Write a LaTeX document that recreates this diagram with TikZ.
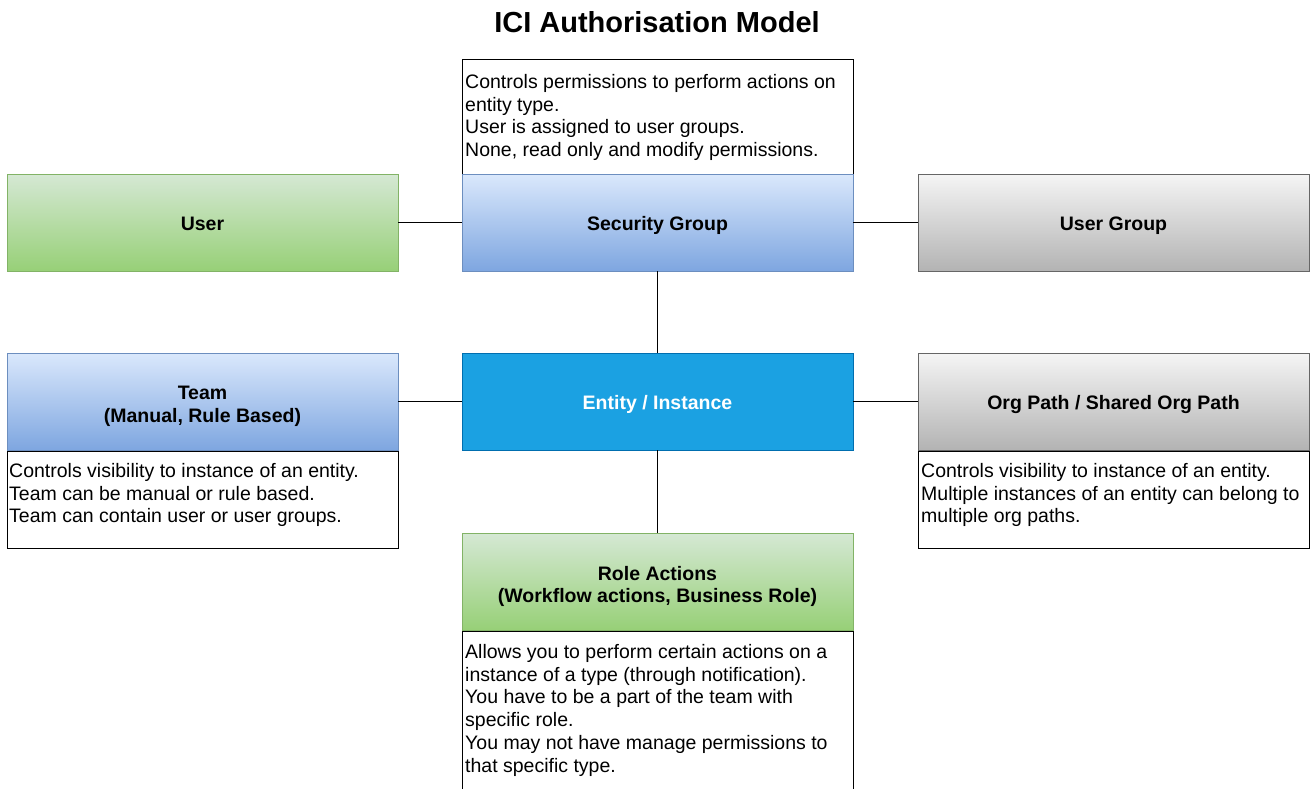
\documentclass[tikz,border=0pt]{standalone}
\usepackage{fontspec}
\setmainfont{Liberation Sans}
\definecolor{gA}{HTML}{D5E8D4}\definecolor{gB}{HTML}{97D077}\definecolor{gS}{HTML}{82B366}
\definecolor{bA}{HTML}{DAE8FC}\definecolor{bB}{HTML}{7EA6E0}\definecolor{bS}{HTML}{6C8EBF}
\definecolor{yA}{HTML}{F5F5F5}\definecolor{yB}{HTML}{B3B3B3}\definecolor{yS}{HTML}{666666}
\definecolor{eF}{HTML}{1BA1E2}\definecolor{eS}{HTML}{006EAF}
\begin{document}
\begin{tikzpicture}[x=1pt,y=-1pt,
  box/.style={line width=1pt, minimum width=391pt, minimum height=97pt, inner sep=0pt, outer sep=0pt, anchor=north west},
  greenbox/.style={box, draw=gS, top color=gA, bottom color=gB},
  bluebox/.style={box, draw=bS, top color=bA, bottom color=bB},
  graybox/.style={box, draw=yS, top color=yA, bottom color=yB},
  entbox/.style={box, draw=eS, fill=eF},
  descbox/.style={box, draw=black, fill=white},
  conn/.style={draw=black, line width=1.2pt},
  lbl/.style={font=\bfseries\fontsize{19.5}{22.5}\selectfont, inner sep=0pt, anchor=base, yshift=-8pt},
  lbltwo/.style={font=\bfseries\fontsize{19.5}{22.5}\selectfont, inner sep=0pt, align=center, anchor=center, yshift=-5pt},
  desc/.style={font=\fontsize{19.5}{22.8}\selectfont, inner sep=0pt, align=left, anchor=north west}
]
\clip (0,0) rectangle (1311,789);
\fill[white] (0,0) rectangle (1311,789);

\node[font=\bfseries\fontsize{29}{34}\selectfont, inner sep=0pt, anchor=base] (title) at (657,33) {ICI Authorisation Model};

% description boxes
\node[descbox, minimum height=114pt] (sgd) at (462,60) {};
\node[descbox] (teamd) at (7,451) {};
\node[descbox] (orgd) at (918,451) {};
\node[descbox, minimum height=200pt] (roled) at (462,631) {};

% main boxes
\node[greenbox] (user) at (7,174) {};
\node[bluebox] (sg) at (462,174) {};
\node[graybox] (ug) at (918,174) {};
\node[bluebox] (team) at (7,353) {};
\node[entbox] (ent) at (462,353) {};
\node[graybox] (org) at (918,353) {};
\node[greenbox] (role) at (462,533) {};

% connectors
\draw[conn] (user.east) -- (sg.west);
\draw[conn] (sg.east) -- (ug.west);
\draw[conn] (sg.south) -- (ent.north);
\draw[conn] (team.east) -- (ent.west);
\draw[conn] (ent.east) -- (org.west);
\draw[conn] (ent.south) -- (role.north);

% labels
\node[lbl] (tuser) at (user.center) {User};
\node[lbl] (tsg) at (sg.center) {Security Group};
\node[lbl] (tug) at (ug.center) {User Group};
\node[lbltwo] (tteam) at (team.center) {Team\\(Manual, Rule Based)};
\node[lbl, text=white] (tent) at (ent.center) {Entity / Instance};
\node[lbl] (torg) at (org.center) {Org Path / Shared Org Path};
\node[lbltwo] (trole) at (role.center) {Role Actions\\(Workflow actions, Business Role)};

% description texts
\node[desc] (xsg) at (465,74) {Controls permissions to perform actions on\\entity type.\\User is assigned to user groups.\\None, read only and modify permissions.};
\node[desc] (xteam) at (9,463) {Controls visibility to instance of an entity.\\Team can be manual or rule based.\\Team can contain user or user groups.};
\node[desc] (xorg) at (921,463) {Controls visibility to instance of an entity.\\Multiple instances of an entity can belong to\\multiple org paths.};
\node[desc] (xrole) at (465,644) {Allows you to perform certain actions on a\\instance of a type (through notification).\\You have to be a part of the team with\\specific role.\\You may not have manage permissions to\\that specific type.};
\end{tikzpicture}
\end{document}
